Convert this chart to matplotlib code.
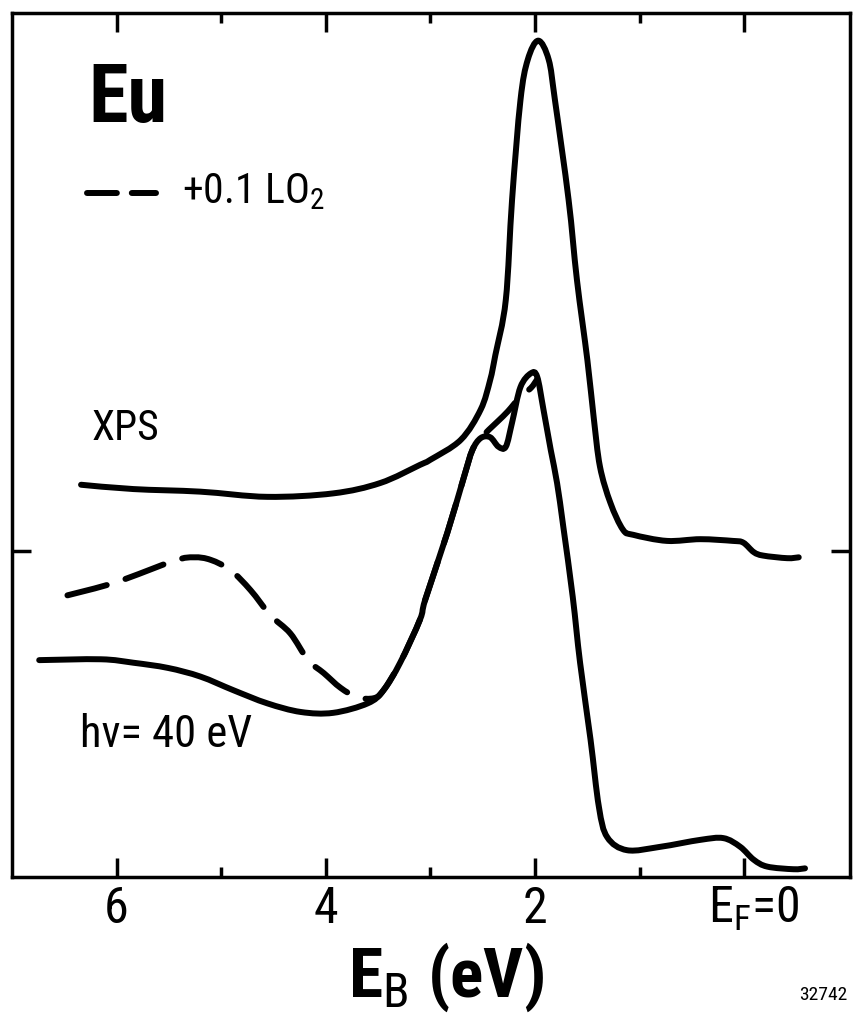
import matplotlib
matplotlib.use("Agg")
import matplotlib.pyplot as plt
from matplotlib import font_manager
from matplotlib.path import Path
from matplotlib.patches import PathPatch
from matplotlib.transforms import ScaledTranslation

# the original uses a narrow DIN-like face; take the narrowest one around
installed = {f.name for f in font_manager.fontManager.ttflist}
FONT = "DejaVu Sans"
for cand in ["Liberation Sans Narrow", "Roboto Condensed",
             "DejaVu Sans Condensed", "Liberation Sans"]:
    if cand in installed:
        FONT = cand
        break
plt.rcParams["font.family"] = [FONT, "DejaVu Sans"]
plt.rcParams["mathtext.fontset"] = "custom"
plt.rcParams["mathtext.rm"] = FONT
plt.rcParams["mathtext.it"] = FONT
plt.rcParams["mathtext.bf"] = FONT + ":bold"

# binding energy (eV) and intensity (arb. units)
xps_e = [6.34, 5.84, 5.20, 4.56, 3.93, 3.48, 3.10, 3.00, 2.71, 2.52, 2.43,
         2.38, 2.28, 2.22, 2.14, 2.07, 1.97, 1.87, 1.81, 1.68, 1.60, 1.50,
         1.44, 1.38, 1.28, 1.16, 1.06, 0.74, 0.42, 0.11, 0.01, -0.09,
         -0.18, -0.41, -0.52]
xps_i = [4.54, 4.49, 4.46, 4.40, 4.44, 4.56, 4.77, 4.83, 5.06, 5.41, 5.75,
         6.04, 6.68, 7.84, 8.99, 9.46, 9.68, 9.46, 8.99, 7.84, 6.91, 5.98,
         5.32, 4.75, 4.33, 4.02, 3.96, 3.89, 3.91, 3.89, 3.87, 3.76,
         3.72, 3.69, 3.70]

uv_e = [6.74, 6.15, 5.84, 5.51, 5.20, 4.88, 4.56, 4.24, 3.93, 3.60, 3.45,
        3.29, 3.10, 3.05, 2.84, 2.68, 2.60, 2.52, 2.43, 2.35, 2.28, 2.22,
        2.14, 2.04, 1.98, 1.92, 1.85, 1.79, 1.73, 1.64, 1.57, 1.47, 1.39,
        1.31, 1.12, 0.80, 0.42, 0.20, 0.04, -0.09, -0.22, -0.47, -0.58]
uv_i = [2.51, 2.52, 2.48, 2.42, 2.32, 2.16, 2.01, 1.91, 1.90, 2.01, 2.16,
        2.48, 2.98, 3.21, 3.98, 4.63, 4.94, 5.08, 5.09, 4.98, 4.98, 5.26,
        5.67, 5.83, 5.79, 5.41, 4.94, 4.56, 4.05, 3.24, 2.48, 1.59, 0.81,
        0.46, 0.31, 0.35, 0.43, 0.45, 0.35, 0.20, 0.12, 0.09, 0.10]

# +0.1 L O2 exposure, 40 eV
o2_e = [6.47, 6.01, 5.45, 5.26, 5.10, 4.91, 4.72, 4.53, 4.34, 4.17, 4.02,
        3.86, 3.70, 3.54, 3.45, 3.29, 3.10, 3.05, 2.84, 2.68, 2.60, 2.52,
        2.36, 2.26, 2.14, 2.04, 1.98]
o2_i = [3.26, 3.41, 3.66, 3.70, 3.67, 3.55, 3.32, 3.03, 2.82, 2.51, 2.36,
        2.19, 2.08, 2.07, 2.16, 2.48, 2.98, 3.21, 3.98, 4.63, 4.94, 5.08,
        5.27, 5.39, 5.56, 5.66, 5.76]

tick_pos = [6, 4, 2, 0]
tick_labels = ["6", "4", "2", r"E$_{\rm F}$=0"]
minor_pos = [5, 3, 1]


def smooth_path(xs, ys):
    """Cubic Bezier path through the points (Catmull-Rom tangents)."""
    pts = list(zip(xs, ys))
    verts = [pts[0]]
    codes = [Path.MOVETO]
    n = len(pts)
    for k in range(n - 1):
        p0 = pts[max(k - 1, 0)]
        p1 = pts[k]
        p2 = pts[k + 1]
        p3 = pts[min(k + 2, n - 1)]
        c1 = (p1[0] + (p2[0] - p0[0]) / 6, p1[1] + (p2[1] - p0[1]) / 6)
        c2 = (p2[0] - (p3[0] - p1[0]) / 6, p2[1] - (p3[1] - p1[1]) / 6)
        verts += [c1, c2, p2]
        codes += [Path.CURVE4] * 3
    return Path(verts, codes)


fig = plt.figure(figsize=(8.56, 10.13), dpi=100)
ax = fig.add_axes([12 / 856, 136 / 1013, 838 / 856, 864 / 1013])

LW = 4.3
curve_kw = dict(fill=False, edgecolor="black", lw=LW, capstyle="round",
                joinstyle="round")
ax.add_patch(PathPatch(smooth_path(xps_e, xps_i), **curve_kw))
ax.add_patch(PathPatch(smooth_path(uv_e, uv_i), **curve_kw))
ax.add_patch(PathPatch(smooth_path(o2_e, o2_i), linestyle=(0, (6.8, 3.3)),
                       **curve_kw))

ax.set_xlim(7.0, -1.01)
ax.set_ylim(0, 10)

ax.set_xticks(tick_pos)
ax.set_xticklabels(tick_labels, fontsize=36)
ax.set_xticks(minor_pos, minor=True)
ax.set_yticks([3.77])
ax.set_yticklabels([])
ax.tick_params(which="both", direction="in", top=True, right=True,
               width=2.5, colors="black", pad=6)
ax.tick_params(which="major", length=14)
ax.tick_params(which="minor", length=7.5)
for sp in ax.spines.values():
    sp.set_linewidth(2.5)

# E_F label sits a bit right of its tick in the original
shift = ScaledTranslation(9 / 100, 0, fig.dpi_scale_trans)
lbl = ax.get_xticklabels()[-1]
lbl.set_transform(lbl.get_transform() + shift)

ax.set_xlabel(r"E$_{\rm B}$ (eV)", fontsize=50, fontweight="bold",
              va="baseline")
ax.xaxis.set_label_coords(0.518, -0.139)

ax.text(0.0907, 0.874, "Eu", transform=ax.transAxes, fontsize=58,
        fontweight="bold", va="baseline")
ax.plot([0.0895, 0.172], [0.7917, 0.7917], transform=ax.transAxes,
        color="black", lw=LW, linestyle=(0, (5.0, 2.5)),
        dash_capstyle="round")
ax.text(0.203, 0.780, r"+0.1 LO$_{2}$", transform=ax.transAxes,
        fontsize=30, va="baseline")
ax.text(0.0955, 0.506, "XPS", transform=ax.transAxes, fontsize=30,
        va="baseline")
ax.text(0.0811, 0.1505, "hν= 40 eV", transform=ax.transAxes, fontsize=32,
        va="baseline")

fig.text(0.99, 0.013, "32742", ha="right", va="baseline", fontsize=14)

fig.savefig("out.png", dpi=100)
